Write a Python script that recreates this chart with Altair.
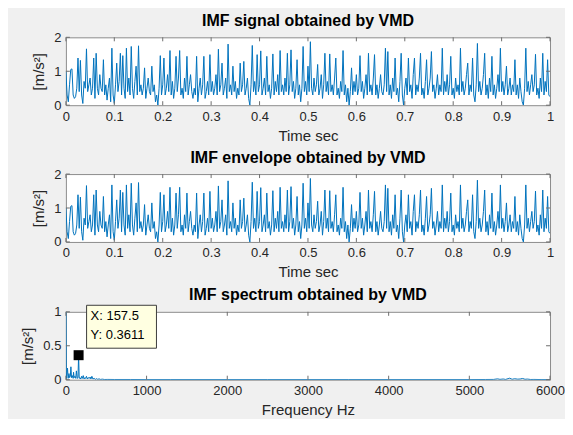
import altair as alt
import pandas as pd

# ---------------- data ----------------
TIME_TICKS = [0, 0.1, 0.2, 0.3, 0.4, 0.5, 0.6, 0.7, 0.8, 0.9, 1]
AMP_TICKS = [0, 1, 2]
FREQ_TICKS = [0, 1000, 2000, 3000, 4000, 5000, 6000]
SPEC_TICKS = [0, 0.5, 1]

# IMF signal, one sample every 1/400 s (values in m/s^2)
SIGNAL = [
    1.0, 0.3, 0.1, 0.6, 1.05, 1.07, 0.3, 0.2, 0.25, 0.5, 1.39, 0.4, 1.32, 0.3, 0.05, 0.7, 0.5, 1.66, 0.4, 0.6,
    0.8, 0.3, 0.5, 1.39, 0.2, 1.53, 0.5, 0.3, 0.9, 0.5, 0.4, 1.34, 0.3, 0.6, 0.15, 0.5, 0.8, 0.1, 1.68, 0.3,
    0.05, 0.6, 1.24, 0.4, 0.7, 1.53, 0.3, 1.46, 0.5, 0.2, 1.68, 0.4, 0.8, 0.3, 1.73, 0.5, 0.2, 0.7, 1.15, 0.3,
    1.75, 0.4, 0.6, 0.3, 0.5, 1.1, 0.2, 0.5, 0.8, 0.4, 0.3, 1.15, 0.4, 0.6, 0.1, 0.3, 0.0, 0.5, 1.46, 0.3,
    0.6, 1.39, 0.3, 0.5, 0.9, 0.4, 1.61, 0.3, 0.7, 0.2, 0.5, 1.44, 0.4, 0.8, 1.61, 0.3, 0.5, 0.2, 0.8, 0.4,
    1.44, 0.3, 0.6, 0.9, 0.4, 0.2, 0.5, 0.3, 1.44, 0.1, 0.5, 0.8, 0.3, 0.6, 1.44, 0.2, 0.4, 0.7, 0.3, 1.49,
    0.4, 0.7, 0.3, 0.5, 0.9, 0.3, 1.65, 0.4, 0.6, 1.24, 0.3, 0.5, 0.8, 0.2, 1.80, 0.4, 0.6, 0.3, 1.15, 0.4,
    0.7, 0.2, 0.5, 0.3, 1.24, 0.4, 0.6, 1.29, 0.3, 0.5, 0.8, 0.2, 0.0, 0.6, 1.76, 0.4, 0.7, 0.3, 1.49, 0.4,
    0.6, 1.6, 0.3, 0.5, 0.8, 0.3, 1.44, 0.4, 0.6, 0.2, 0.5, 1.51, 0.3, 0.7, 0.4, 0.9, 0.3, 1.61, 0.4, 0.6,
    0.3, 0.8, 0.4, 1.53, 0.3, 0.6, 1.63, 0.4, 0.7, 0.2, 0.5, 1.34, 0.3, 0.6, 0.1, 0.5, 1.73, 0.4, 0.7, 0.3,
    1.15, 0.4, 1.87, 0.5, 0.3, 0.8, 0.4, 0.6, 1.2, 0.3, 0.5, 0.9, 0.2, 0.6, 1.53, 0.4, 0.7, 0.3, 1.51, 0.4,
    0.6, 0.3, 0.8, 1.39, 0.3, 0.5, 0.2, 0.7, 0.4, 1.61, 0.3, 0.6, 0.1, 0.5, 0.0, 0.4, 1.1, 0.3, 0.7, 0.4,
    0.9, 0.3, 0.5, 1.46, 0.4, 0.7, 0.2, 0.5, 0.9, 0.3, 1.53, 0.4, 0.6, 0.3, 0.8, 1.49, 0.3, 0.6, 0.2, 0.5,
    0.9, 0.4, 0.3, 0.6, 1.68, 0.4, 1.58, 0.3, 0.6, 0.2, 0.8, 0.4, 1.39, 0.3, 0.5, 0.1, 0.7, 1.53, 0.3, 0.0,
    0.5, 0.8, 0.3, 1.39, 0.4, 0.6, 0.2, 0.9, 1.39, 0.3, 0.6, 0.4, 0.8, 1.53, 0.3, 0.5, 0.2, 0.7, 1.34, 0.3,
    0.5, 0.8, 1.58, 0.4, 0.6, 0.2, 0.5, 0.9, 0.3, 0.6, 0.4, 1.68, 0.3, 0.7, 0.4, 0.9, 0.3, 0.6, 1.44, 0.3,
    0.5, 0.2, 0.8, 0.4, 0.6, 0.3, 1.68, 0.4, 0.7, 0.3, 0.5, 0.9, 1.24, 0.3, 0.6, 0.4, 1.39, 0.3, 0.1, 0.6,
    1.82, 0.4, 0.7, 0.3, 0.5, 0.9, 1.53, 0.3, 0.6, 0.2, 0.8, 0.4, 1.44, 0.3, 0.6, 0.2, 0.5, 0.9, 0.4, 1.68,
    0.4, 0.7, 0.3, 0.6, 1.15, 0.3, 0.5, 0.8, 0.3, 0.6, 0.4, 1.34, 0.3, 0.6, 0.2, 0.8, 0.4, 0.1, 0.0, 0.5,
    1.68, 0.4, 0.7, 0.3, 0.6, 0.9, 0.4, 0.6, 1.5, 0.3, 0.5, 0.2, 0.8, 0.4, 1.53, 0.3, 0.7, 0.4, 1.34, 0.3,
    0.25,
]
# the envelope panel of the reference shows the same trace
ENVELOPE = list(SIGNAL)
SAMPLE_RATE = 400

SPEC_FREQ = [0, 5, 12, 20, 28, 38, 46, 55, 62, 70, 80, 90, 95, 102, 112, 122, 130, 140, 150, 157.5,
             165, 175, 185, 195, 205, 215, 225, 235, 245, 255, 265, 275, 290, 300, 310, 322, 335, 350,
             365, 380, 395, 410, 430, 450, 480, 520, 600, 800, 1000, 1300, 1600, 2000, 2500, 3000,
             3500, 4000, 4500, 5000, 5200, 5300, 5350, 5380, 5420, 5450, 5480, 5500, 5530, 5560,
             5600, 5630, 5660, 5690, 5720, 5760, 5800, 5900, 6000]
SPEC_AMP = [1.3, 0.02, 0.06, 0.17, 0.02, 0.09, 0.03, 0.05, 0.19, 0.03, 0.06, 0.02, 0.11, 0.03, 0.05,
            0.02, 0.13, 0.02, 0.03, 0.3611, 0.02, 0.03, 0.01, 0.05, 0.02, 0.06, 0.01, 0.03, 0.02, 0.05,
            0.01, 0.03, 0.02, 0.04, 0.01, 0.05, 0.01, 0.02, 0.005, 0.015, 0.005, 0.012, 0.004, 0.008,
            0.003, 0.004, 0.003, 0.003, 0.002, 0.002, 0.002, 0.002, 0.002, 0.002, 0.002, 0.002, 0.002,
            0.002, 0.003, 0.004, 0.012, 0.005, 0.01, 0.004, 0.015, 0.022, 0.006, 0.014, 0.008, 0.01,
            0.018, 0.006, 0.009, 0.003, 0.004, 0.002, 0.002]

TIP_X = 157.5
TIP_Y = 0.3611

# ---------------- styling ----------------
FONT = "Liberation Sans"
BLUE = "#0072BD"
TICK = "#6e6e6e"
W, H = 485, 68
TL = 4  # inward tick length


def panel(df, xcol, ycol, title, xtitle, xdomain, xticks, ydomain, yticks, extra=None):
    xscale = alt.Scale(domain=xdomain, nice=False, zero=False)
    yscale = alt.Scale(domain=ydomain, nice=False)
    xaxis = alt.Axis(values=xticks, title=xtitle, labelExpr="datum.value")
    yaxis = alt.Axis(values=yticks, title="[m/s²]", labelExpr="datum.value")

    def X(field):
        return alt.X(f"{field}:Q", scale=xscale, axis=xaxis)

    def Y(field):
        return alt.Y(f"{field}:Q", scale=yscale, axis=yaxis)

    line = alt.Chart(df).mark_line(color=BLUE, strokeWidth=1, clip=True).encode(
        x=X(xcol), y=Y(ycol))
    xt = pd.DataFrame({"v": xticks})
    yt = pd.DataFrame({"v": yticks})
    rule = dict(color=TICK, strokeWidth=1)
    top = alt.Chart(xt).mark_rule(**rule).encode(x=X("v"), y=alt.value(0), y2=alt.value(TL))
    bot = alt.Chart(xt).mark_rule(**rule).encode(x=X("v"), y=alt.value(H), y2=alt.value(H - TL))
    left = alt.Chart(yt).mark_rule(**rule).encode(y=Y("v"), x=alt.value(0), x2=alt.value(TL))
    right = alt.Chart(yt).mark_rule(**rule).encode(y=Y("v"), x=alt.value(W), x2=alt.value(W - TL))
    layers = [line, top, bot, left, right]
    if extra is not None:
        layers += extra(X, Y)
    return alt.layer(*layers).properties(
        width=W, height=H,
        title=alt.TitleParams(title, fontSize=16, fontWeight="bold", font=FONT,
                              color="black", offset=2, anchor="middle"),
    )


times = [i / SAMPLE_RATE for i in range(len(SIGNAL))]
sig_df = pd.DataFrame({"t": times, "a": SIGNAL})
env_df = pd.DataFrame({"t": times, "a": ENVELOPE})
spec_df = pd.DataFrame({"f": SPEC_FREQ, "a": SPEC_AMP})

tip_df = pd.DataFrame({"f": [TIP_X], "a": [TIP_Y],
                       "lx": [f"X: {TIP_X}"], "ly": [f"Y: {TIP_Y}"]})


def datatip(X, Y):
    marker = alt.Chart(tip_df).mark_point(shape="square", size=100, filled=True,
                                          color="black", opacity=1).encode(x=X("f"), y=Y("a"))
    box = alt.Chart(tip_df).mark_rect(fill="#ffffe1", stroke="#3c3c3c", strokeWidth=1,
                                      xOffset=8, x2Offset=78, yOffset=-50, y2Offset=-7).encode(
        x=X("f"), x2="f:Q", y=Y("a"), y2="a:Q")
    st = dict(align="left", baseline="middle", font=FONT, fontSize=13, color="black", dx=12)
    lab_x = alt.Chart(tip_df).mark_text(dy=-39, **st).encode(x=X("f"), y=Y("a"), text="lx:N")
    lab_y = alt.Chart(tip_df).mark_text(dy=-20, **st).encode(x=X("f"), y=Y("a"), text="ly:N")
    return [marker, box, lab_x, lab_y]


p1 = panel(sig_df, "t", "a", "IMF signal obtained by VMD", "Time sec",
           [0, 1], TIME_TICKS, [0, 2], AMP_TICKS)
p2 = panel(env_df, "t", "a", "IMF envelope obtained by VMD", "Time sec",
           [0, 1], TIME_TICKS, [0, 2], AMP_TICKS)
p3 = panel(spec_df, "f", "a", "IMF spectrum obtained by VMD", "Frequency Hz",
           [0, 6000], FREQ_TICKS, [0, 1], SPEC_TICKS, extra=datatip)

chart = alt.vconcat(p1, p2, p3, spacing=5).configure(
    background="#f0f0f0",
    padding={"left": 12, "top": 4, "right": 0, "bottom": 0},
).configure_view(
    fill="white", stroke="#8c8c8c", strokeWidth=1,
).configure_axis(
    labelFont=FONT, labelFontSize=13, labelColor="#262626",
    titleFont=FONT, titleFontSize=15, titleFontWeight="normal", titleColor="#262626",
    domain=False, ticks=False, tickSize=0, grid=False,
    labelFlush=False, labelOverlap=False,
).configure_axisX(
    labelPadding=5, titlePadding=5,
).configure_axisY(
    labelPadding=5, titlePadding=7,
)

chart.save("out.html", embed_options={"renderer": "svg", "actions": False})
